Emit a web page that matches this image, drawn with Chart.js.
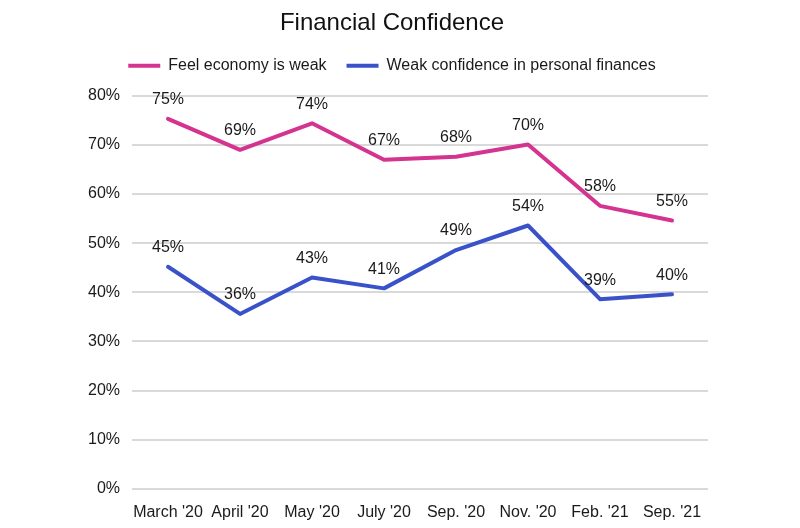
<!DOCTYPE html>
<html>
<head>
<meta charset="utf-8">
<script src="https://cdn.jsdelivr.net/npm/chart.js@4.4.1/dist/chart.umd.min.js"></script>
<style>
  html, body { margin: 0; padding: 0; background: #fff; }
  canvas { display: block; }
</style>
</head>
<body>
<canvas id="confidenceChart" width="800" height="528"></canvas>
<script>
const months = ["March '20", "April '20", "May '20", "July '20", "Sep. '20", "Nov. '20", "Feb. '21", "Sep. '21"];
const economyWeak = [75.3, 69.0, 74.4, 67.0, 67.6, 70.1, 57.6, 54.6];
const personalWeak = [45.2, 35.6, 43.0, 40.8, 48.6, 53.6, 38.6, 39.6];
const yTicks = [0, 10, 20, 30, 40, 50, 60, 70, 80];

const PINK = '#d4338f';
const BLUE = '#3a52c9';
const FONT = "'Liberation Sans', Arial, sans-serif";

// simple value labels above each point
const pointLabels = {
    id: 'pointLabels',
    afterDatasetsDraw(chart) {
        const ctx = chart.ctx;
        ctx.save();
        ctx.font = '16px ' + FONT;
        ctx.fillStyle = '#1a1a1a';
        ctx.textAlign = 'center';
        ctx.textBaseline = 'middle';
        chart.data.datasets.forEach((ds, i) => {
            chart.getDatasetMeta(i).data.forEach((pt, j) => {
                ctx.fillText(Math.round(ds.data[j]) + '%', pt.x, pt.y - 19);
            });
        });
        ctx.restore();
    }
};

// extra room under the legend
const legendGap = {
    id: 'legendGap',
    beforeInit(chart) {
        const fit = chart.legend.fit;
        chart.legend.fit = function () {
            fit.bind(chart.legend)();
            this.height += 12;
        };
    }
};

const canvas = document.getElementById('confidenceChart');
new Chart(canvas.getContext('2d'), {
    type: 'line',
    data: {
        labels: months,
        datasets: [
            { label: 'Feel economy is weak', data: economyWeak, borderColor: PINK, backgroundColor: PINK },
            { label: 'Weak confidence in personal finances', data: personalWeak, borderColor: BLUE, backgroundColor: BLUE }
        ]
    },
    options: {
        responsive: false,
        animation: false,
        layout: { padding: { left: 76, right: 92, top: 5, bottom: 0 } },
        elements: {
            line: { borderWidth: 4, tension: 0, borderCapStyle: 'round', borderJoinStyle: 'round' },
            point: { radius: 0, hoverRadius: 0 }
        },
        plugins: {
            title: {
                display: true,
                text: 'Financial Confidence',
                color: '#111',
                font: { family: FONT, size: 24, weight: 'normal' },
                padding: { top: 4, bottom: 0 }
            },
            legend: {
                position: 'top',
                labels: {
                    color: '#1a1a1a',
                    font: { family: FONT, size: 16 },
                    boxWidth: 32,
                    boxHeight: 4,
                    padding: 20,
                    generateLabels: chart => Chart.defaults.plugins.legend.labels.generateLabels(chart)
                        .map(item => Object.assign(item, { lineWidth: 0 }))
                }
            },
            tooltip: { enabled: false }
        },
        scales: {
            x: {
                offset: true,
                grid: { display: false },
                border: { display: false },
                ticks: { color: '#1a1a1a', font: { family: FONT, size: 16 }, maxRotation: 0, autoSkip: false, padding: 6 }
            },
            y: {
                min: 0,
                max: 80,
                afterBuildTicks: axis => { axis.ticks = yTicks.map(v => ({ value: v })); },
                grid: { color: '#d9d9d9', lineWidth: 2, drawTicks: false },
                border: { display: false },
                ticks: {
                    color: '#1a1a1a',
                    font: { family: FONT, size: 16 },
                    padding: 12,
                    callback: v => v + '%'
                }
            }
        }
    },
    plugins: [pointLabels, legendGap]
});
</script>
</body>
</html>
